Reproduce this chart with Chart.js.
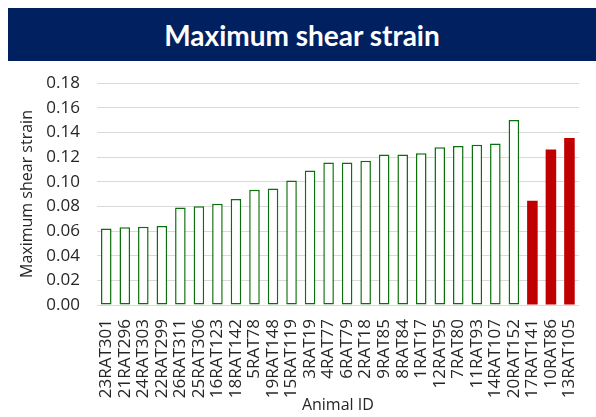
<!DOCTYPE html>
<html>
<head>
<meta charset="utf-8">
<script src="https://cdn.jsdelivr.net/npm/chart.js@4.4.1/dist/chart.umd.min.js"></script>
<style>
    body { margin: 0; background: #ffffff; width: 596px; height: 417px; overflow: hidden; }
    #banner {
        position: absolute; left: 8px; top: 8px; width: 588px; height: 53px;
        background: #002060; color: #ffffff;
        font-family: Lato, "Open Sans", sans-serif; font-weight: bold; font-size: 28px;
        display: flex; align-items: center; justify-content: center;
    }
    #wrap { position: absolute; left: 0; top: 60px; width: 596px; height: 357px; }
</style>
</head>
<body>
<div id="banner">Maximum shear strain</div>
<div id="wrap"><canvas id="strain_chart" width="596" height="357"></canvas></div>
<script>
// animal IDs, sorted as in the figure
const ANIMAL_IDS = ['23RAT301', '21RAT296', '24RAT303', '22RAT299', '26RAT311', '25RAT306', '16RAT123',
    '18RAT142', '5RAT78', '19RAT148', '15RAT119', '3RAT19', '4RAT77', '6RAT79', '2RAT18', '9RAT85',
    '8RAT84', '1RAT17', '12RAT95', '7RAT80', '11RAT93', '14RAT107', '20RAT152', '17RAT141',
    '10RAT86', '13RAT105'];
const MAX_SHEAR_STRAIN = [0.062, 0.063, 0.0635, 0.064, 0.079, 0.080, 0.082,
    0.086, 0.0935, 0.0945, 0.101, 0.109, 0.1155, 0.1155, 0.117, 0.122,
    0.122, 0.123, 0.128, 0.129, 0.130, 0.131, 0.150, 0.0845,
    0.126, 0.1355];
// animals drawn as solid red bars
const HIGHLIGHTED = ['17RAT141', '10RAT86', '13RAT105'];
const Y_TICKS = [0, 0.02, 0.04, 0.06, 0.08, 0.10, 0.12, 0.14, 0.16, 0.18];

const FONT = '"Open Sans", sans-serif';
const GREEN = '#0b700b';
const RED = '#c00000';

let is_red = ANIMAL_IDS.map(id => HIGHLIGHTED.includes(id));

new Chart(document.getElementById('strain_chart'), {
    type: 'bar',
    data: {
        labels: ANIMAL_IDS,
        datasets: [{
            data: MAX_SHEAR_STRAIN,
            backgroundColor: is_red.map(r => r ? RED : '#ffffff'),
            borderColor: is_red.map(r => r ? RED : GREEN),
            borderWidth: is_red.map(r => r ? 0 : 1.5),
            borderSkipped: false,
            barPercentage: 0.57,
            categoryPercentage: 1
        }]
    },
    options: {
        responsive: false,
        animation: false,
        layout: {padding: {left: 18, right: 8, top: 23, bottom: 0}},
        plugins: {legend: {display: false}, tooltip: {enabled: false}},
        scales: {
            x: {
                grid: {display: false},
                border: {display: true, color: '#d9d9d9', width: 1},
                ticks: {
                    color: '#262626', font: {family: FONT, size: 17},
                    minRotation: 90, maxRotation: 90, autoSkip: false, padding: 6
                },
                title: {
                    display: true, text: 'Animal ID', color: '#262626',
                    font: {family: FONT, size: 16}, padding: {top: 0, bottom: 2}
                },
                afterFit: function (scale) { scale.height = 112; }
            },
            y: {
                min: 0,
                max: 0.18,
                afterBuildTicks: function (scale) {
                    scale.ticks = Y_TICKS.map(v => ({value: v}));
                },
                grid: {color: '#d9d9d9', lineWidth: 1, drawTicks: false},
                border: {display: false},
                ticks: {
                    color: '#262626', font: {family: FONT, size: 17}, padding: 17,
                    callback: v => v.toFixed(2)
                },
                title: {
                    display: true, text: 'Maximum shear strain', color: '#262626',
                    font: {family: FONT, size: 16}, padding: {top: 0, bottom: 0}
                },
                afterFit: function (scale) {
                    scale.width = 79;
                    scale.paddingTop = 0;
                    scale.paddingBottom = 0;
                }
            }
        }
    }
});
</script>
</body>
</html>
